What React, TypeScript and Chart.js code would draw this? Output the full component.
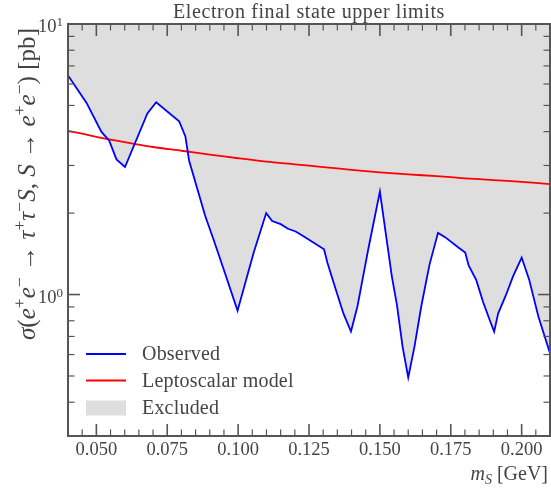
import React, { useEffect, useRef } from "react";
import { Chart, registerables } from "chart.js";

Chart.register(...registerables);

// ---------- data ----------
const massObserved = [0.040, 0.0465, 0.0518, 0.0545, 0.0571, 0.0601, 0.068, 0.0711, 0.0792, 0.0814, 0.0827, 0.0884, 0.0913, 0.0949, 0.0998, 0.1055, 0.1099, 0.112, 0.115, 0.1176, 0.1203, 0.1232, 0.1303, 0.1315, 0.1345, 0.1372, 0.1398, 0.1421, 0.1441, 0.1459, 0.150, 0.1542, 0.156, 0.158, 0.160, 0.1622, 0.1646, 0.1675, 0.1705, 0.173, 0.1778, 0.1801, 0.1813, 0.184, 0.1864, 0.1887, 0.1903, 0.1917, 0.1943, 0.197, 0.200, 0.2026, 0.2059, 0.210];
const sigmaObserved = [6.45, 5.12, 3.99, 3.71, 3.16, 2.96, 4.67, 5.14, 4.37, 3.84, 3.13, 1.95, 1.60, 1.24, 0.872, 1.43, 2.0, 1.87, 1.82, 1.75, 1.71, 1.64, 1.47, 1.31, 1.04, 0.848, 0.73, 0.905, 1.17, 1.47, 2.40, 1.17, 0.918, 0.642, 0.494, 0.642, 0.905, 1.29, 1.69, 1.63, 1.49, 1.43, 1.28, 1.13, 0.939, 0.807, 0.729, 0.85, 0.986, 1.17, 1.37, 1.14, 0.83, 0.607];

const massModel = [0.04, 0.05, 0.06, 0.07, 0.08, 0.09, 0.10, 0.11, 0.12, 0.13, 0.14, 0.15, 0.16, 0.17, 0.18, 0.19, 0.20, 0.21];
const sigmaModel = [4.03, 3.83, 3.66, 3.51, 3.40, 3.29, 3.19, 3.10, 3.03, 2.96, 2.89, 2.83, 2.78, 2.74, 2.69, 2.65, 2.61, 2.56];

const xMajorTicks = [0.05, 0.075, 0.1, 0.125, 0.15, 0.175, 0.2];
const xTickLabels = ["0.050", "0.075", "0.100", "0.125", "0.150", "0.175", "0.200"];
const xMinorTicks = [0.045, 0.055, 0.06, 0.065, 0.07, 0.08, 0.085, 0.09, 0.095, 0.105, 0.11, 0.115, 0.12, 0.13, 0.135, 0.14, 0.145, 0.155, 0.16, 0.165, 0.17, 0.18, 0.185, 0.19, 0.195, 0.205];

const yMajorTicks = [1, 10];
const yTickBase = ["10", "10"];
const yTickExponent = ["0", "1"];
const yMinorTicks = [0.4, 0.5, 0.6, 0.7, 0.8, 0.9, 2, 3, 4, 5, 6, 7, 8, 9];

const seriesLabels = ["Observed", "Leptoscalar model", "Excluded"];
const titleText = "Electron final state upper limits";

// ---------- style ----------
const FONT = "'Liberation Serif', 'Times New Roman', serif";
const TEXT_COLOR = "#444";
const AXIS_COLOR = "#555";
const BLUE = "#0000ff";
const RED = "#ff0000";
const FILL = "#dedede";

type Seg = { t: string; it?: boolean; sup?: boolean; sub?: boolean };

const yLabelSegs: Seg[] = [
  { t: "σ", it: true }, { t: "(" },
  { t: "e", it: true }, { t: "+", sup: true }, { t: "e", it: true }, { t: "−", sup: true },
  { t: " → " },
  { t: "τ", it: true }, { t: "+", sup: true }, { t: "τ", it: true }, { t: "−", sup: true }, { t: "S", it: true },
  { t: ", " }, { t: "S", it: true }, { t: " → " },
  { t: "e", it: true }, { t: "+", sup: true }, { t: "e", it: true }, { t: "−", sup: true },
  { t: ")" }, { t: " [pb]" },
];
const xLabelSegs: Seg[] = [{ t: "m", it: true }, { t: "S", it: true, sub: true }, { t: " [GeV]" }];

function segFont(s: Seg, fs: number) {
  const size = s.sup || s.sub ? fs * 0.7 : fs;
  return `${s.it ? "italic " : ""}${size}px ${FONT}`;
}
function measureSegs(ctx: CanvasRenderingContext2D, segs: Seg[], fs: number) {
  let w = 0;
  for (const s of segs) {
    ctx.font = segFont(s, fs);
    w += ctx.measureText(s.t).width;
  }
  return w;
}
function drawSegs(ctx: CanvasRenderingContext2D, segs: Seg[], fs: number, x0: number, y0: number) {
  let x = x0;
  for (const s of segs) {
    ctx.font = segFont(s, fs);
    const dy = s.sup ? -fs * 0.4 : s.sub ? fs * 0.22 : 0;
    ctx.fillText(s.t, x, y0 + dy);
    x += ctx.measureText(s.t).width;
  }
  return x - x0;
}

const decorPlugin = {
  id: "decor",
  afterDatasetsDraw(chart: any) {
    const { ctx, chartArea: a, scales } = chart;
    const xs = scales.x;
    const ys = scales.y;
    ctx.save();
    const seg = (x1: number, y1: number, x2: number, y2: number) => {
      ctx.beginPath();
      ctx.moveTo(x1, y1);
      ctx.lineTo(x2, y2);
      ctx.stroke();
    };
    ctx.strokeStyle = AXIS_COLOR;
    // x ticks (inward, bottom and top)
    ctx.lineWidth = 1.2;
    for (const v of xMinorTicks) {
      const p = xs.getPixelForValue(v);
      seg(p, a.bottom, p, a.bottom - 6.5);
      seg(p, a.top, p, a.top + 6.5);
    }
    ctx.lineWidth = 1.6;
    for (const v of xMajorTicks) {
      const p = xs.getPixelForValue(v);
      seg(p, a.bottom, p, a.bottom - 12);
      seg(p, a.top, p, a.top + 12);
    }
    // y ticks (inward, left and right)
    ctx.lineWidth = 1.2;
    for (const v of yMinorTicks) {
      const p = ys.getPixelForValue(v);
      seg(a.left, p, a.left + 6.5, p);
      seg(a.right, p, a.right - 6.5, p);
    }
    ctx.lineWidth = 1.6;
    for (const v of yMajorTicks) {
      const p = ys.getPixelForValue(v);
      seg(a.left, p, a.left + 12, p);
      seg(a.right, p, a.right - 12, p);
    }
    // frame
    ctx.lineWidth = 2;
    ctx.strokeRect(a.left, a.top, a.right - a.left, a.bottom - a.top);

    ctx.fillStyle = TEXT_COLOR;
    ctx.textBaseline = "alphabetic";
    ctx.textAlign = "left";

    // y tick labels 10^n
    yMajorTicks.forEach((v, i) => {
      const p = ys.getPixelForValue(v);
      const fs = 18.5;
      ctx.font = `${fs}px ${FONT}`;
      const wb = ctx.measureText(yTickBase[i]).width;
      ctx.font = `${fs * 0.7}px ${FONT}`;
      const we = ctx.measureText(yTickExponent[i]).width;
      const x0 = a.left - 5 - wb - we;
      const base = p + 8;
      ctx.font = `${fs}px ${FONT}`;
      ctx.fillText(yTickBase[i], x0, base);
      ctx.font = `${fs * 0.7}px ${FONT}`;
      ctx.fillText(yTickExponent[i], x0 + wb, base - 6);
    });

    // title
    ctx.font = `20px ${FONT}`;
    (ctx as any).letterSpacing = "0.6px";
    ctx.textAlign = "center";
    ctx.fillText(titleText, (a.left + a.right) / 2, a.top - 6);
    (ctx as any).letterSpacing = "0px";
    ctx.textAlign = "left";

    // x label (right aligned)
    const fsx = 20;
    const wx = measureSegs(ctx, xLabelSegs, fsx);
    drawSegs(ctx, xLabelSegs, fsx, a.right - 2 - wx, a.bottom + 44);

    // y label (rotated)
    const fsy = 19;
    const wy = measureSegs(ctx, yLabelSegs, fsy);
    const targetLen = 312;
    const k = targetLen / wy;
    ctx.save();
    ctx.translate(35, a.bottom - 96);
    ctx.rotate(-Math.PI / 2);
    ctx.scale(k, k);
    drawSegs(ctx, yLabelSegs, fsy, 0, 0);
    ctx.restore();

    // legend
    const lx0 = a.left + 18;
    const lx1 = a.left + 58;
    const tx = a.left + 74;
    const rows = [a.bottom - 82, a.bottom - 55.5, a.bottom - 28];
    ctx.lineWidth = 1.8;
    ctx.strokeStyle = BLUE;
    seg(lx0, rows[0], lx1, rows[0]);
    ctx.strokeStyle = RED;
    seg(lx0, rows[1], lx1, rows[1]);
    ctx.fillStyle = FILL;
    ctx.fillRect(lx0, rows[2] - 7.5, lx1 - lx0, 15);
    ctx.fillStyle = TEXT_COLOR;
    ctx.font = `20px ${FONT}`;
    (ctx as any).letterSpacing = "0.2px";
    ctx.textBaseline = "middle";
    seriesLabels.forEach((lab, i) => ctx.fillText(lab, tx, rows[i] + 1));
    (ctx as any).letterSpacing = "0px";
    ctx.restore();
  },
};

export default function App() {
  const ref = useRef<HTMLCanvasElement | null>(null);
  useEffect(() => {
    document.body.style.margin = "0";
    if (!ref.current) return;
    const obs = massObserved.map((x, i) => ({ x, y: sigmaObserved[i] }));
    const model = massModel.map((x, i) => ({ x, y: sigmaModel[i] }));
    const chart = new Chart(ref.current, {
      type: "line",
      data: {
        datasets: [
          { label: seriesLabels[0], data: obs, borderColor: BLUE, borderWidth: 1.8, pointRadius: 0, fill: false, tension: 0 },
          { label: seriesLabels[1], data: model, borderColor: RED, borderWidth: 1.8, pointRadius: 0, fill: false, tension: 0.3 },
          { label: seriesLabels[2], data: obs, borderColor: "rgba(0,0,0,0)", borderWidth: 0, backgroundColor: FILL, pointRadius: 0, fill: "end" },
        ],
      },
      options: {
        animation: false,
        responsive: true,
        maintainAspectRatio: false,
        layout: { padding: { top: 24, right: 1, left: 0, bottom: 0 } },
        plugins: {
          legend: { display: false },
          title: { display: false },
          tooltip: { enabled: false },
          filler: { drawTime: "beforeDatasetsDraw" },
        } as any,
        scales: {
          x: {
            type: "linear",
            min: 0.04,
            max: 0.21,
            grid: { display: false, drawTicks: false },
            border: { display: false },
            afterBuildTicks: (s: any) => {
              s.ticks = xMajorTicks.map((v) => ({ value: v }));
            },
            afterFit: (s: any) => {
              s.height = 55;
            },
            ticks: {
              padding: 3,
              color: TEXT_COLOR,
              maxRotation: 0,
              autoSkip: false,
              font: { family: FONT, size: 18.5 },
              callback: (v: any) => {
                const i = xMajorTicks.findIndex((m) => Math.abs(m - Number(v)) < 1e-9);
                return i >= 0 ? xTickLabels[i] : "";
              },
            },
          },
          y: {
            type: "logarithmic",
            min: 0.3,
            max: 10,
            grid: { display: false, drawTicks: false },
            border: { display: false },
            afterBuildTicks: (s: any) => {
              s.ticks = yMajorTicks.map((v) => ({ value: v }));
            },
            afterFit: (s: any) => {
              s.width = 68;
            },
            ticks: { display: false },
          },
        },
      } as any,
      plugins: [decorPlugin],
    });
    return () => chart.destroy();
  }, []);
  return (
    <div style={{ position: "fixed", left: 0, top: 0, width: 551, height: 491, background: "#fff" }}>
      <canvas ref={ref} />
    </div>
  );
}
